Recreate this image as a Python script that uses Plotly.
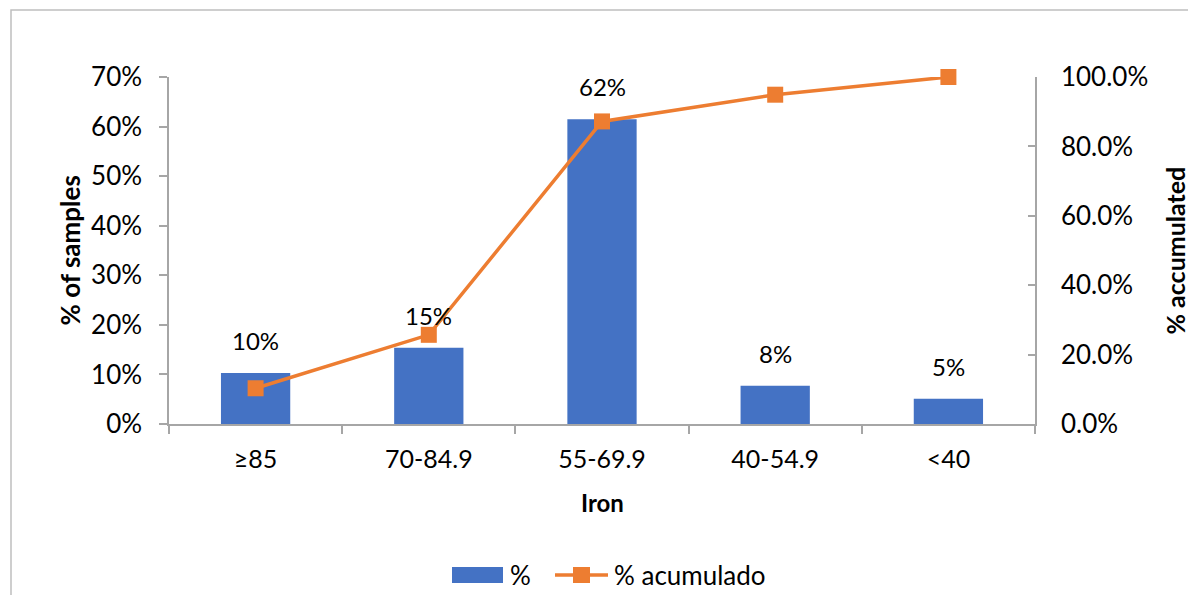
import plotly.graph_objects as go

# Iron concentration classes and sample distribution
categories = ["≥85", "70-84.9", "55-69.9", "40-54.9", "<40"]
pct_samples = [0.103, 0.154, 0.615, 0.077, 0.051]
pct_accumulated = [0.103, 0.257, 0.872, 0.949, 1.0]

BAR_COLOR = "#4472C4"
LINE_COLOR = "#ED7D31"
AXIS_COLOR = "#A6A6A6"
FONT = "Lato, 'Open Sans', sans-serif"

W, H = 1188, 595
M_L, M_R, M_T, M_B = 169, 153, 77, 171
PW, PH = W - M_L - M_R, H - M_T - M_B


def px(x):
    return (x - M_L) / PW


def py(y):
    return (H - M_B - y) / PH


fig = go.Figure()

fig.add_trace(go.Bar(
    x=categories, y=pct_samples, name="%",
    marker=dict(color=BAR_COLOR, line=dict(width=0)),
    yaxis="y", showlegend=False,
))

fig.add_trace(go.Scatter(
    x=categories, y=pct_accumulated, name="% acumulado",
    mode="lines+markers",
    line=dict(color=LINE_COLOR, width=3.5),
    marker=dict(symbol="square", size=16, color=LINE_COLOR),
    yaxis="y2", showlegend=False, cliponaxis=False,
))

annotations = []
# value labels above the bars
for c, v in zip(categories, pct_samples):
    annotations.append(dict(
        x=c, y=v, xref="x", yref="y", text=f"{round(v * 100)}%",
        showarrow=False, yanchor="bottom", yshift=16,
        font=dict(family=FONT, size=24, color="#000000"),
    ))

# axis titles
annotations += [
    dict(x=px(69), y=0.5, xref="paper", yref="paper", text="% of samples",
         xanchor="center", yanchor="middle",
         textangle=-90, showarrow=False,
         font=dict(family=FONT, size=26, color="#000000", weight="bold")),
    dict(x=px(1174), y=0.5, xref="paper", yref="paper", text="% accumulated",
         xanchor="center", yanchor="middle",
         textangle=-90, showarrow=False,
         font=dict(family=FONT, size=25, color="#000000", weight="bold")),
    dict(x=0.5, y=py(502), xref="paper", yref="paper", text="Iron",
         xanchor="center", yanchor="middle",
         showarrow=False, font=dict(family=FONT, size=24, color="#000000", weight="bold")),
]

# legend entries
legend_font = dict(family=FONT, size=26, color="#000000")
annotations += [
    dict(x=px(508), y=py(575), xref="paper", yref="paper", text="%",
         xanchor="left", yanchor="middle", showarrow=False, font=legend_font),
    dict(x=px(612), y=py(575), xref="paper", yref="paper", text="% acumulado",
         xanchor="left", yanchor="middle", showarrow=False, font=legend_font),
]

shapes = [
    # chart border
    dict(type="rect", xref="paper", yref="paper",
         x0=px(11), x1=px(1195), y0=py(602), y1=py(10),
         line=dict(color="#BFBFBF", width=1.5), fillcolor="rgba(0,0,0,0)"),
    # legend swatches
    dict(type="rect", xref="paper", yref="paper",
         x0=px(452), x1=px(503), y0=py(583), y1=py(567),
         line=dict(width=0), fillcolor=BAR_COLOR),
    dict(type="line", xref="paper", yref="paper",
         x0=px(555), x1=px(608), y0=py(575), y1=py(575),
         line=dict(color=LINE_COLOR, width=3.5)),
    dict(type="rect", xref="paper", yref="paper",
         x0=px(573), x1=px(590), y0=py(583), y1=py(567),
         line=dict(width=0), fillcolor=LINE_COLOR),
]

fig.update_layout(
    width=W, height=H,
    margin=dict(l=M_L, r=M_R, t=M_T, b=M_B),
    paper_bgcolor="white", plot_bgcolor="white",
    font=dict(family=FONT, size=26, color="#000000"),
    bargap=0.6,
    xaxis=dict(
        type="category", showgrid=False, showline=True,
        linecolor=AXIS_COLOR, linewidth=1.5,
        ticks="outside", tickson="boundaries", ticklen=8,
        tickcolor=AXIS_COLOR, tickwidth=1.5,
        tickfont=dict(family=FONT, size=25), ticklabelstandoff=12,
    ),
    yaxis=dict(
        range=[0, 0.7], dtick=0.1, tickformat=".0%",
        showgrid=False, zeroline=False, showline=True,
        linecolor=AXIS_COLOR, linewidth=1.5,
        ticks="outside", ticklen=8, tickcolor=AXIS_COLOR, tickwidth=1.5,
        tickfont=dict(family=FONT, size=26), ticklabelstandoff=12,
    ),
    yaxis2=dict(
        range=[0, 1.0], dtick=0.2, tickformat=".1%",
        overlaying="y", side="right",
        showgrid=False, zeroline=False, showline=True,
        linecolor=AXIS_COLOR, linewidth=1.5,
        ticks="inside", ticklen=7, tickcolor=AXIS_COLOR, tickwidth=1.5,
        tickfont=dict(family=FONT, size=26), ticklabelstandoff=19,
    ),
    annotations=annotations,
    shapes=shapes,
    showlegend=False,
)

fig.write_html("out.html")
